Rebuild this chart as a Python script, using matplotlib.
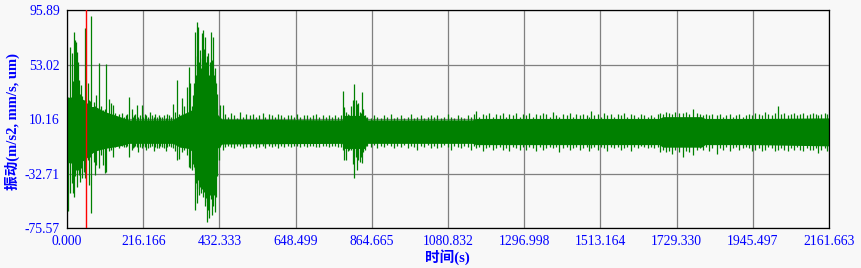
import matplotlib
matplotlib.use("Agg")
import matplotlib.pyplot as plt

# ---- data ------------------------------------------------------------------
# axis ticks
x_ticks = [0.000, 216.166, 432.333, 648.499, 864.665, 1080.832,
           1296.998, 1513.164, 1729.330, 1945.497, 2161.663]
x_labels = ["0.000", "216.166", "432.333", "648.499", "864.665", "1080.832",
            "1296.998", "1513.164", "1729.330", "1945.497", "2161.663"]
y_ticks = [-75.57, -32.71, 10.16, 53.02, 95.89]
y_labels = ["-75.57", "-32.71", "10.16", "53.02", "95.89"]

# dense core band of the vibration signal (envelope)
core_t = [0, 25, 50, 65, 80, 107, 150, 175, 300, 320, 345, 358, 362, 420,
          426, 440, 780, 788, 845, 852, 1150, 1160, 1450, 1680, 1690, 1800,
          1810, 1950, 2161.663]
core_hi = [27, 28, 25, 20, 20, 16, 12, 9.5, 9.5, 13, 16, 18, 36, 36,
           14, 10, 9.5, 13, 13, 9.5, 9.5, 10.5, 10.5, 10.5, 12, 12,
           10.5, 10.5, 11]
core_lo = [-24, -25, -22, -18, -15, -13, -11, -9, -9, -12, -13, -16, -32, -32,
           -13, -9.5, -9, -13, -13, -9, -9, -10, -10, -10, -12, -12,
           -10, -10, -11]

# start-up shocks and first quiet stretch (0 - 362 s)
early_t = [2.8, 8.5, 14.2, 17, 19.9, 23.6, 26, 27.4, 31.2, 35, 36.8, 40.7,
           42.5, 48.2, 52, 59.6, 62.4, 64, 69, 76.6, 79.5, 82.3, 91.7, 97.4,
           103, 106.7, 110.6, 118.2, 123.9, 129.6, 137, 147, 156, 161.7,
           166, 171, 176.6, 183.5, 187, 190, 193, 197.6, 202, 206, 211.9,
           216, 220, 225, 230, 235.5, 240, 246.8, 251, 255, 260, 265, 270,
           275, 280.8, 285, 290, 295, 299.8, 306, 312.9, 318, 325.3, 331,
           339.5, 347, 349, 353.7, 357, 360.3]
early_hi = [27.7, 67, 62, 40, 78.8, 72.3, 71, 63.1, 55.2, 40.8, 30, 36.9,
            28, 23.8, 82, 38.5, 25, 24, 91.2, 23.8, 20, 29, 54, 20,
            17, 18, 53.2, 25.9, 23, 21.2, 15, 14, 15, 12,
            13, 14, 27.7, 18, 12, 13, 14, 21.2, 12, 13, 21.2,
            12, 14, 13, 12, 15.9, 13, 12, 14, 12, 13, 12, 12,
            13, 11, 14, 13, 12, 21.9, 16, 40.8, 14, 26.4, 20,
            35.6, 51.3, 38.2, 20, 29, 38.2]
early_lo = [-61.9, -48, -40, -48, -51, -35, -30, -43, -30, -33.9, -39, -28.4,
            -36, -31.3, -36.2, -22.1, -41.8, -20, -63.8, -24, -33.6, -26, -28,
            -18, -26, -32.3, -31.3, -15, -14, -19.5, -12, -13, -11, -11.6,
            -12, -11, -19.5, -14, -13, -12, -11, -12, -15.6, -12, -13,
            -11, -12, -14, -13, -12, -11, -15, -12, -13, -13, -11, -12,
            -13, -15, -12, -11, -12, -13, -15, -22.1, -21, -16, -14,
            -18, -27.4, -28.6, -30, -25, -27.9]

# large burst around 360 - 445 s
burst_t = [364, 366, 367.8, 370, 372.6, 375, 377.3, 380, 382, 384, 386.8,
           389, 391.5, 394, 396.2, 398.5, 401, 403.8, 405.5, 407.6, 409.5,
           411.4, 413, 415.1, 417, 418.9, 420.8, 422.7, 424.5, 426.5, 432.1,
           435, 441.6]
burst_hi = [78.8, 45, 86.7, 60, 82.8, 55, 64.4, 50, 77.5, 58, 80.2,
            65, 74.9, 55, 51, 60, 62, 45, 55, 78.8, 50,
            56.6, 48, 74.9, 45, 50, 40, 38.5, 30, 18, 12,
            21.2, 21.2]
burst_lo = [-61.4, -40, -55.9, -45, -38, -50, -43, -48, -45, -40, -51,
            -47, -58, -52, -70.6, -55, -61.4, -68, -50, -52.5, -48,
            -65, -45, -58, -50, -62.8, -45, -50.9, -35, -22, -22.1,
            -12, -14]

# quiet stretch 445 - 775 s
quiet1_t = [447, 456, 466, 474, 483, 492, 500, 509, 519, 528, 536, 545, 555,
            563, 572, 581, 590, 599, 608, 617, 626, 635, 644, 653, 662, 671,
            680, 689, 698, 707, 716, 725, 734, 743, 752, 761, 770]
quiet1_hi = [14, 12, 15, 13, 11, 16, 12, 14, 13, 14, 12, 13, 15,
             12, 14, 13, 12, 14, 13, 12, 13, 13, 12, 14, 12, 13,
             13, 12, 13, 14, 12, 13, 12, 13, 12, 13, 12]
quiet1_lo = [-12, -11, -12, -13, -11, -11, -13, -12, -12, -11, -13, -12, -11,
             -13, -11, -12, -11, -13, -11, -12, -11, -12, -11, -11, -12, -11,
             -12, -11, -11, -12, -12, -11, -11, -12, -11, -11, -12]

# second burst around 780 - 850 s
burst2_t = [778, 784, 787, 791, 796, 801, 806, 810, 815.1, 819, 822, 826,
            830, 834, 837.8, 841, 846]
burst2_hi = [13, 32.4, 19.8, 16, 14, 13, 20, 25, 37.7, 25.1, 22, 22.5,
             16, 15, 31.2, 18, 13]
burst2_lo = [-12, -14, -22.1, -22.1, -15, -14, -14.2, -25, -36.5, -20, -30,
             -22, -24, -20, -24.7, -16, -14]

# long steady running 850 - 2161 s
quiet2_t = [852, 861, 871, 880, 890, 899, 909, 918, 928, 937,
            947, 956, 966, 975, 985, 994, 1004, 1013, 1023, 1032,
            1042, 1051, 1061, 1070, 1080, 1089, 1099, 1108, 1118, 1127,
            1137, 1146, 1156, 1160, 1170, 1179, 1189, 1198, 1208,
            1217, 1227, 1236, 1246, 1255, 1265, 1274, 1284, 1293,
            1303, 1312, 1322, 1331, 1341, 1350, 1360, 1369, 1379,
            1388, 1396, 1407, 1417, 1426, 1436, 1445, 1455, 1464,
            1474, 1482, 1486, 1495, 1505, 1514, 1524, 1533, 1543, 1552,
            1562, 1571, 1581, 1590, 1600, 1609, 1619, 1628, 1638, 1647,
            1657, 1666, 1676, 1682, 1690, 1699, 1708, 1717, 1726, 1735,
            1747, 1756, 1765, 1777, 1786, 1795, 1804, 1813, 1822, 1831,
            1843, 1852, 1861, 1870, 1880, 1889, 1898, 1907, 1917, 1926,
            1935, 1944, 1953, 1962, 1971, 1980, 1990, 1999, 2008, 2017,
            2026, 2035, 2044, 2053, 2062, 2071, 2080, 2089, 2098, 2107,
            2116, 2125, 2131, 2140, 2149, 2157]
quiet2_hi = [12, 11, 13, 12, 11, 13, 12, 14, 11, 12,
             13, 11, 12, 14, 11, 12, 13, 11, 12, 13,
             12, 13, 11, 12, 14, 12, 11, 13, 12, 11,
             13, 12, 14, 16.5, 12, 14, 13, 15, 12,
             14, 13, 15, 12, 14, 13, 15, 12, 14,
             13, 15, 12, 14, 13, 15, 14, 12, 16,
             13, 12, 14, 13, 15, 12, 14, 13, 14,
             13, 12, 16.5, 13, 14, 12, 15, 13, 14, 12,
             14, 13, 15, 12, 14, 13, 12, 14, 13, 12,
             13, 12, 14, 15, 14, 16, 15, 14, 16, 15,
             15, 16, 14, 17.9, 15, 14, 13, 14, 13, 14,
             13, 14, 12, 13, 14, 12, 13, 14, 12, 13,
             14, 13, 15, 14, 13, 16, 14, 13, 15, 20,
             14, 15, 13, 14, 15, 13, 14, 15, 13, 14,
             15, 14, 13, 14, 15, 14]
quiet2_lo = [-11, -12, -10, -13, -11, -12, -10, -11, -13, -11,
             -12, -10, -13, -11, -12, -14, -11, -12, -10, -13,
             -11, -13, -12, -10, -12, -14, -11, -12, -13, -11,
             -12, -14, -11, -13, -12, -15, -13, -12, -14,
             -13, -12, -14, -13, -15, -12, -13, -14, -12,
             -14, -12, -13, -15, -12, -14, -13, -12, -13,
             -12, -15.9, -13, -12, -14, -13, -12, -14, -13,
             -12, -15, -13, -12, -14, -12, -13, -15, -12, -13,
             -12, -14, -13, -12, -15, -12, -13, -11, -12, -13,
             -12, -13, -12, -15.9, -14, -16, -15, -17, -14, -16,
             -19.5, -15, -16, -18.2, -14, -13, -14, -12, -15, -13,
             -17.5, -13, -14, -12, -15, -13, -12, -14, -13, -12,
             -13, -15, -14, -13, -15, -14, -12, -13, -15, -14,
             -13, -14, -15, -13, -14, -12, -14, -15, -13, -14,
             -14, -13, -16.7, -14, -13, -15]

marker_t = 54.8  # red cursor line

# ---- figure ------------------------------------------------------------------
BG = "#f8f8f8"
GREEN = "#008000"
BLUE = "#0000ff"

fig = plt.figure(figsize=(8.61, 2.68), dpi=100, facecolor=BG)
ax = fig.add_axes([67 / 861, 1 - 228 / 268, 762 / 861, 218 / 268])
ax.set_facecolor(BG)

ax.fill_between(core_t, core_lo, core_hi, color=GREEN, lw=0, zorder=2)
for t, hi, lo in [(early_t, early_hi, early_lo),
                  (burst_t, burst_hi, burst_lo),
                  (quiet1_t, quiet1_hi, quiet1_lo),
                  (burst2_t, burst2_hi, burst2_lo),
                  (quiet2_t, quiet2_hi, quiet2_lo)]:
    ax.vlines(t, lo, hi, color=GREEN, lw=0.9, zorder=2)

ax.axvline(marker_t, color="#ff0000", lw=1.0, zorder=3)

ax.set_xlim(x_ticks[0], x_ticks[-1])
ax.set_ylim(y_ticks[0], y_ticks[-1])
ax.set_xticks(x_ticks)
ax.set_xticklabels(x_labels)
ax.set_yticks(y_ticks)
ax.set_yticklabels(y_labels)
ax.grid(True, color="#808080", lw=0.9, zorder=1)
ax.set_axisbelow(True)

ax.tick_params(length=0, colors=BLUE, labelsize=9.8)
ax.tick_params(axis="y", pad=5)
ax.tick_params(axis="x", pad=5)
for lab in ax.get_xticklabels() + ax.get_yticklabels():
    lab.set_family("Liberation Serif")
for s in ax.spines.values():
    s.set_color("black")
    s.set_linewidth(0.9)

fig.text(12 / 861, 1 - 121 / 268, "振动(m/s2, mm/s, um)", rotation=90,
         ha="center", va="center", color=BLUE, fontsize=10.5, fontweight="bold",
         family=["Liberation Serif", "Noto Sans CJK SC"])
fig.text(447 / 861, 1 - 257 / 268, "时间(s)", ha="center", va="center",
         color=BLUE, fontsize=10.5, fontweight="bold",
         family=["Liberation Serif", "Noto Sans CJK SC"])

fig.savefig("out.png", dpi=100, facecolor=BG)
